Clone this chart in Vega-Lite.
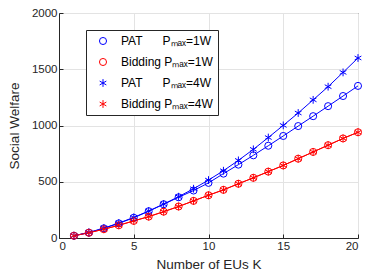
{
  "$schema": "https://vega.github.io/schema/vega-lite/v6.json",
  "width": 299,
  "height": 225,
  "autosize": "none",
  "padding": {"left": 59, "top": 13, "right": 8, "bottom": 42},
  "config": {
    "font": "Liberation Sans",
    "view": {"stroke": "#262626", "strokeWidth": 1},
    "axis": {
      "labelColor": "#262626", "labelFontSize": 11.5, "titleColor": "#262626", "titleFontSize": 13.5,
      "titleFontWeight": "normal", "domainColor": "#262626", "tickColor": "#262626",
      "tickSize": -4, "gridColor": "#e3e3e3", "gridWidth": 1, "labelPadding": 6, "format": "d"
    }
  },
  "data": {"values": [
    {"K":1,"s":"PAT\u00a0\u00a0\u00a0\u00a0\u00a0\u00a0Pₘₐₓ=1W","v":20},
    {"K":2,"s":"PAT\u00a0\u00a0\u00a0\u00a0\u00a0\u00a0Pₘₐₓ=1W","v":47},
    {"K":3,"s":"PAT\u00a0\u00a0\u00a0\u00a0\u00a0\u00a0Pₘₐₓ=1W","v":86},
    {"K":4,"s":"PAT\u00a0\u00a0\u00a0\u00a0\u00a0\u00a0Pₘₐₓ=1W","v":130},
    {"K":5,"s":"PAT\u00a0\u00a0\u00a0\u00a0\u00a0\u00a0Pₘₐₓ=1W","v":180},
    {"K":6,"s":"PAT\u00a0\u00a0\u00a0\u00a0\u00a0\u00a0Pₘₐₓ=1W","v":238},
    {"K":7,"s":"PAT\u00a0\u00a0\u00a0\u00a0\u00a0\u00a0Pₘₐₓ=1W","v":300},
    {"K":8,"s":"PAT\u00a0\u00a0\u00a0\u00a0\u00a0\u00a0Pₘₐₓ=1W","v":362},
    {"K":9,"s":"PAT\u00a0\u00a0\u00a0\u00a0\u00a0\u00a0Pₘₐₓ=1W","v":422},
    {"K":10,"s":"PAT\u00a0\u00a0\u00a0\u00a0\u00a0\u00a0Pₘₐₓ=1W","v":490},
    {"K":11,"s":"PAT\u00a0\u00a0\u00a0\u00a0\u00a0\u00a0Pₘₐₓ=1W","v":572},
    {"K":12,"s":"PAT\u00a0\u00a0\u00a0\u00a0\u00a0\u00a0Pₘₐₓ=1W","v":652},
    {"K":13,"s":"PAT\u00a0\u00a0\u00a0\u00a0\u00a0\u00a0Pₘₐₓ=1W","v":735},
    {"K":14,"s":"PAT\u00a0\u00a0\u00a0\u00a0\u00a0\u00a0Pₘₐₓ=1W","v":820},
    {"K":15,"s":"PAT\u00a0\u00a0\u00a0\u00a0\u00a0\u00a0Pₘₐₓ=1W","v":907},
    {"K":16,"s":"PAT\u00a0\u00a0\u00a0\u00a0\u00a0\u00a0Pₘₐₓ=1W","v":995},
    {"K":17,"s":"PAT\u00a0\u00a0\u00a0\u00a0\u00a0\u00a0Pₘₐₓ=1W","v":1083},
    {"K":18,"s":"PAT\u00a0\u00a0\u00a0\u00a0\u00a0\u00a0Pₘₐₓ=1W","v":1172},
    {"K":19,"s":"PAT\u00a0\u00a0\u00a0\u00a0\u00a0\u00a0Pₘₐₓ=1W","v":1262},
    {"K":20,"s":"PAT\u00a0\u00a0\u00a0\u00a0\u00a0\u00a0Pₘₐₓ=1W","v":1352},
    {"K":1,"s":"Bidding Pₘₐₓ=1W","v":20},
    {"K":2,"s":"Bidding Pₘₐₓ=1W","v":47},
    {"K":3,"s":"Bidding Pₘₐₓ=1W","v":78},
    {"K":4,"s":"Bidding Pₘₐₓ=1W","v":113},
    {"K":5,"s":"Bidding Pₘₐₓ=1W","v":152},
    {"K":6,"s":"Bidding Pₘₐₓ=1W","v":190},
    {"K":7,"s":"Bidding Pₘₐₓ=1W","v":234},
    {"K":8,"s":"Bidding Pₘₐₓ=1W","v":280},
    {"K":9,"s":"Bidding Pₘₐₓ=1W","v":330},
    {"K":10,"s":"Bidding Pₘₐₓ=1W","v":380},
    {"K":11,"s":"Bidding Pₘₐₓ=1W","v":428},
    {"K":12,"s":"Bidding Pₘₐₓ=1W","v":482},
    {"K":13,"s":"Bidding Pₘₐₓ=1W","v":535},
    {"K":14,"s":"Bidding Pₘₐₓ=1W","v":590},
    {"K":15,"s":"Bidding Pₘₐₓ=1W","v":645},
    {"K":16,"s":"Bidding Pₘₐₓ=1W","v":705},
    {"K":17,"s":"Bidding Pₘₐₓ=1W","v":765},
    {"K":18,"s":"Bidding Pₘₐₓ=1W","v":825},
    {"K":19,"s":"Bidding Pₘₐₓ=1W","v":885},
    {"K":20,"s":"Bidding Pₘₐₓ=1W","v":940},
    {"K":1,"s":"PAT\u00a0\u00a0\u00a0\u00a0\u00a0\u00a0Pₘₐₓ=4W","v":20},
    {"K":2,"s":"PAT\u00a0\u00a0\u00a0\u00a0\u00a0\u00a0Pₘₐₓ=4W","v":50},
    {"K":3,"s":"PAT\u00a0\u00a0\u00a0\u00a0\u00a0\u00a0Pₘₐₓ=4W","v":88},
    {"K":4,"s":"PAT\u00a0\u00a0\u00a0\u00a0\u00a0\u00a0Pₘₐₓ=4W","v":133},
    {"K":5,"s":"PAT\u00a0\u00a0\u00a0\u00a0\u00a0\u00a0Pₘₐₓ=4W","v":183},
    {"K":6,"s":"PAT\u00a0\u00a0\u00a0\u00a0\u00a0\u00a0Pₘₐₓ=4W","v":240},
    {"K":7,"s":"PAT\u00a0\u00a0\u00a0\u00a0\u00a0\u00a0Pₘₐₓ=4W","v":302},
    {"K":8,"s":"PAT\u00a0\u00a0\u00a0\u00a0\u00a0\u00a0Pₘₐₓ=4W","v":367},
    {"K":9,"s":"PAT\u00a0\u00a0\u00a0\u00a0\u00a0\u00a0Pₘₐₓ=4W","v":438},
    {"K":10,"s":"PAT\u00a0\u00a0\u00a0\u00a0\u00a0\u00a0Pₘₐₓ=4W","v":515},
    {"K":11,"s":"PAT\u00a0\u00a0\u00a0\u00a0\u00a0\u00a0Pₘₐₓ=4W","v":598},
    {"K":12,"s":"PAT\u00a0\u00a0\u00a0\u00a0\u00a0\u00a0Pₘₐₓ=4W","v":690},
    {"K":13,"s":"PAT\u00a0\u00a0\u00a0\u00a0\u00a0\u00a0Pₘₐₓ=4W","v":788},
    {"K":14,"s":"PAT\u00a0\u00a0\u00a0\u00a0\u00a0\u00a0Pₘₐₓ=4W","v":893},
    {"K":15,"s":"PAT\u00a0\u00a0\u00a0\u00a0\u00a0\u00a0Pₘₐₓ=4W","v":1001},
    {"K":16,"s":"PAT\u00a0\u00a0\u00a0\u00a0\u00a0\u00a0Pₘₐₓ=4W","v":1111},
    {"K":17,"s":"PAT\u00a0\u00a0\u00a0\u00a0\u00a0\u00a0Pₘₐₓ=4W","v":1228},
    {"K":18,"s":"PAT\u00a0\u00a0\u00a0\u00a0\u00a0\u00a0Pₘₐₓ=4W","v":1345},
    {"K":19,"s":"PAT\u00a0\u00a0\u00a0\u00a0\u00a0\u00a0Pₘₐₓ=4W","v":1472},
    {"K":20,"s":"PAT\u00a0\u00a0\u00a0\u00a0\u00a0\u00a0Pₘₐₓ=4W","v":1600},
    {"K":1,"s":"Bidding Pₘₐₓ=4W","v":20},
    {"K":2,"s":"Bidding Pₘₐₓ=4W","v":47},
    {"K":3,"s":"Bidding Pₘₐₓ=4W","v":78},
    {"K":4,"s":"Bidding Pₘₐₓ=4W","v":113},
    {"K":5,"s":"Bidding Pₘₐₓ=4W","v":152},
    {"K":6,"s":"Bidding Pₘₐₓ=4W","v":190},
    {"K":7,"s":"Bidding Pₘₐₓ=4W","v":234},
    {"K":8,"s":"Bidding Pₘₐₓ=4W","v":280},
    {"K":9,"s":"Bidding Pₘₐₓ=4W","v":330},
    {"K":10,"s":"Bidding Pₘₐₓ=4W","v":380},
    {"K":11,"s":"Bidding Pₘₐₓ=4W","v":428},
    {"K":12,"s":"Bidding Pₘₐₓ=4W","v":482},
    {"K":13,"s":"Bidding Pₘₐₓ=4W","v":535},
    {"K":14,"s":"Bidding Pₘₐₓ=4W","v":590},
    {"K":15,"s":"Bidding Pₘₐₓ=4W","v":645},
    {"K":16,"s":"Bidding Pₘₐₓ=4W","v":705},
    {"K":17,"s":"Bidding Pₘₐₓ=4W","v":765},
    {"K":18,"s":"Bidding Pₘₐₓ=4W","v":825},
    {"K":19,"s":"Bidding Pₘₐₓ=4W","v":885},
    {"K":20,"s":"Bidding Pₘₐₓ=4W","v":940}
  ]},
  "encoding": {
    "x": {"field": "K", "type": "quantitative", "scale": {"domain": [0, 20], "nice": false},
      "axis": {"values": [0, 5, 10, 15, 20], "title": "Number of EUs K", "titlePadding": 6}},
    "y": {"field": "v", "type": "quantitative", "scale": {"domain": [0, 2000], "nice": false},
      "axis": {"values": [0, 500, 1000, 1500, 2000], "title": "Social Welfare", "titlePadding": 10}},
    "color": {"field": "s", "type": "nominal",
      "scale": {"domain": ["PAT\u00a0\u00a0\u00a0\u00a0\u00a0\u00a0Pₘₐₓ=1W", "Bidding Pₘₐₓ=1W", "PAT\u00a0\u00a0\u00a0\u00a0\u00a0\u00a0Pₘₐₓ=4W", "Bidding Pₘₐₓ=4W"],
        "range": ["#0000ff", "#ff0000", "#0000ff", "#ff0000"]},
      "legend": {
        "title": null, "orient": "none", "legendX": 27, "legendY": 17,
        "fillColor": "white", "strokeColor": "#262626", "padding": 5,
        "labelFontSize": 12, "labelColor": "#000000", "labelFont": "Liberation Sans",
        "symbolSize": 50, "symbolStrokeWidth": 1, "rowPadding": 9, "labelOffset": 12,
        "symbolOffset": 6, "symbolFillColor": "transparent"
      }}
  },
  "layer": [
    {
      "mark": {"type": "line", "strokeWidth": 1}
    },
    {
      "mark": {"type": "point", "filled": false, "size": 50, "strokeWidth": 1, "opacity": 1},
      "encoding": {
        "shape": {"field": "s", "type": "nominal", "legend": null,
          "scale": {"domain": ["PAT\u00a0\u00a0\u00a0\u00a0\u00a0\u00a0Pₘₐₓ=1W", "Bidding Pₘₐₓ=1W", "PAT\u00a0\u00a0\u00a0\u00a0\u00a0\u00a0Pₘₐₓ=4W", "Bidding Pₘₐₓ=4W"],
            "range": ["circle", "circle", "M0,-1.1L0,1.1M-0.95,-0.55L0.95,0.55M-0.95,0.55L0.95,-0.55", "M0,-1.1L0,1.1M-0.95,-0.55L0.95,0.55M-0.95,0.55L0.95,-0.55"]}}
      }
    }
  ]
}
